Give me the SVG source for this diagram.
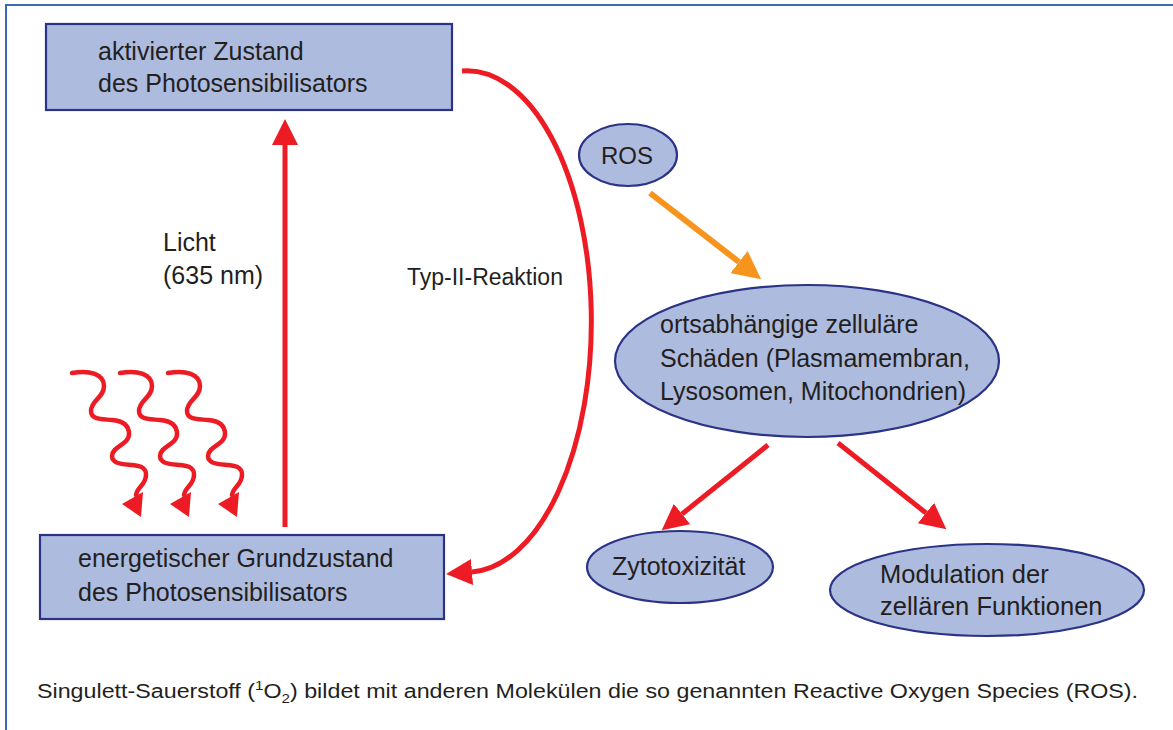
<svg xmlns="http://www.w3.org/2000/svg" width="1173" height="730" viewBox="0 0 1173 730">
<style>
.node{fill:#adbbdf;stroke:#2c3285;stroke-width:2.2}
.t{font-family:"Liberation Sans",Arial,sans-serif;font-size:25px;fill:#231f20}
.red{fill:none;stroke:#ed1c24;stroke-width:5}
.wave{fill:none;stroke:#ed1c24;stroke-width:4.5;stroke-linecap:round}
.org{fill:none;stroke:#f7941d;stroke-width:6}
</style>
<defs>
<marker id="ar" viewBox="0 0 10 10" refX="0" refY="5" markerWidth="26" markerHeight="26" markerUnits="userSpaceOnUse" orient="auto"><path d="M0,0 L10,5 L0,10 z" fill="#ed1c24"/></marker>
<marker id="ao" viewBox="0 0 10 10" refX="0" refY="5" markerWidth="28" markerHeight="28" markerUnits="userSpaceOnUse" orient="auto"><path d="M0,0 L10,5 L0,10 z" fill="#f7941d"/></marker>
<g id="wv">
<path class="wave" d="M72,373 C90,370 104,374 104,386 C104,398 91,400 91,411 C91,420 102,419 112,420 C124,421 129,426 129,434 C129,445 112,446 112,456 C112,464 122,464 132,465 C142,466 146,468 146,475 C146,485 137,487 136,495"/>
<polygon points="122,504 143,492 141,517" fill="#ed1c24"/>
</g>
</defs>
<rect x="0" y="0" width="1173" height="730" fill="#fff"/>
<path d="M6,730 V5 H1173" fill="none" stroke="#3a6cb4" stroke-width="2"/>

<g id="connectors">
<use href="#wv"/>
<use href="#wv" transform="translate(48,0)"/>
<use href="#wv" transform="translate(96,0)"/>
<path class="red" d="M285,527 V145" marker-end="url(#ar)"/>
<path class="red" d="M462,71 A124,250 0 0 1 472,572" marker-end="url(#ar)"/>
<path class="org" d="M650,193 L739,262" marker-end="url(#ao)"/>
<path class="red" d="M768,445 L682,514" marker-end="url(#ar)"/>
<path class="red" d="M838,443 L926,513" marker-end="url(#ar)"/>
</g>

<g id="n-active">
<rect class="node" x="46" y="24" width="406" height="86"/>
<text class="t" x="98" y="60">aktivierter Zustand</text>
<text class="t" x="98" y="92">des Photosensibilisators</text>
</g>
<g id="n-ground">
<rect class="node" x="40" y="535" width="404" height="84"/>
<text class="t" x="78" y="567">energetischer Grundzustand</text>
<text class="t" x="78" y="601">des Photosensibilisators</text>
</g>
<g id="l-licht">
<text class="t" x="163" y="251">Licht</text>
<text class="t" x="163" y="284">(635 nm)</text>
</g>
<g id="l-typ">
<text class="t" x="407" y="285" style="font-size:23px">Typ-II-Reaktion</text>
</g>
<g id="n-ros">
<ellipse class="node" cx="628" cy="155" rx="49" ry="31"/>
<text class="t" x="627" y="164" text-anchor="middle" style="font-size:24px">ROS</text>
</g>
<g id="n-schaeden">
<ellipse class="node" cx="807" cy="361" rx="192" ry="76"/>
<text class="t" x="660" y="333">ortsabhängige zelluläre</text>
<text class="t" x="660" y="367">Schäden (Plasmamembran,</text>
<text class="t" x="660" y="400">Lysosomen, Mitochondrien)</text>
</g>
<g id="n-zyto">
<ellipse class="node" cx="680" cy="567" rx="93" ry="36"/>
<text class="t" x="612" y="575">Zytotoxizität</text>
</g>
<g id="n-mod">
<ellipse class="node" cx="987" cy="590" rx="157" ry="46"/>
<text class="t" x="880" y="583" style="font-size:25.5px">Modulation der</text>
<text class="t" x="880" y="615" style="font-size:25.5px">zellären Funktionen</text>
</g>
<g id="caption">
<text font-family="Liberation Sans, Arial, sans-serif" font-size="20" fill="#231f20" x="37" y="698" textLength="1101" lengthAdjust="spacingAndGlyphs">Singulett-Sauerstoff (<tspan font-size="13" dy="-8">1</tspan><tspan dy="8">O</tspan><tspan font-size="13" dy="5">2</tspan><tspan dy="-5">) bildet mit anderen Molekülen die so genannten Reactive Oxygen Species (ROS).</tspan></text>
</g>
</svg>
